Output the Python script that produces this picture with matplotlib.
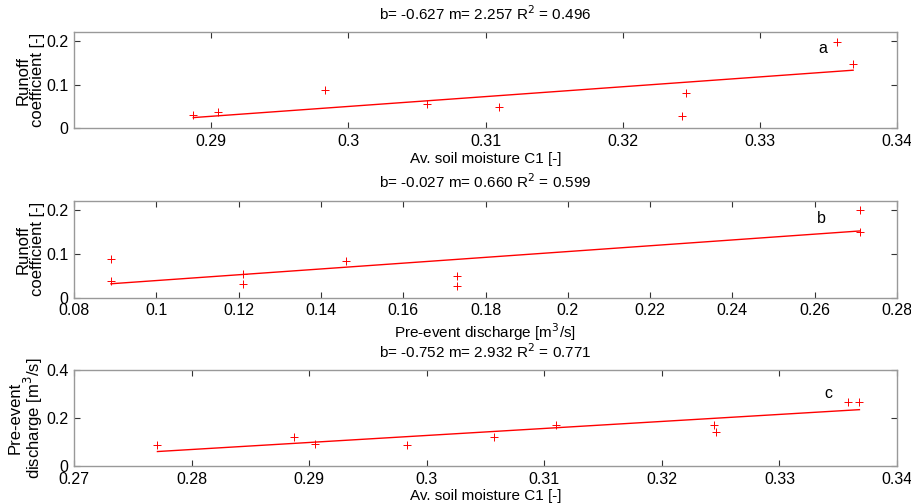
import numpy as np
import matplotlib
matplotlib.use("Agg")
import matplotlib.pyplot as plt

plt.rcParams['font.family'] = ['Liberation Sans', 'DejaVu Sans']

# panel a: soil moisture vs runoff coefficient
soil_a = [0.2887, 0.2905, 0.2983, 0.3057, 0.3110, 0.3243, 0.3246, 0.3356, 0.3368]
rc_a = [0.030, 0.037, 0.087, 0.055, 0.049, 0.028, 0.082, 0.198, 0.148]
fit_a = (-0.627, 2.257, 0.496)

# panel b: pre-event discharge vs runoff coefficient
q_b = [0.089, 0.089, 0.121, 0.121, 0.146, 0.173, 0.173, 0.271, 0.271]
rc_b = [0.088, 0.038, 0.054, 0.031, 0.083, 0.049, 0.027, 0.199, 0.150]
fit_b = (-0.027, 0.660, 0.599)

# panel c: soil moisture vs pre-event discharge
soil_c = [0.2771, 0.2887, 0.2905, 0.2983, 0.3057, 0.3110, 0.3244, 0.3246, 0.3358, 0.3368]
q_c = [0.088, 0.120, 0.090, 0.089, 0.120, 0.173, 0.171, 0.143, 0.269, 0.269]
fit_c = (-0.752, 2.932, 0.771)

panels = [
    (soil_a, rc_a, fit_a, 'a', 'Av. soil moisture C1 [-]', 'Runoff\ncoefficient [-]',
     (0.28, 0.34), np.arange(0.29, 0.3401, 0.01), (0, 0.22), [0, 0.1, 0.2], ['0.29', '0.3', '0.31', '0.32', '0.33', '0.34'],
     [0.0811, 0.7454, 0.9025, 0.1905], (0.3343, 0.172)),
    (q_b, rc_b, fit_b, 'b', 'Pre-event discharge [m$^3$/s]', 'Runoff\ncoefficient [-]',
     (0.08, 0.28), np.arange(0.08, 0.2801, 0.02), (0, 0.22), [0, 0.1, 0.2], None,
     [0.0811, 0.4093, 0.9025, 0.1919], (0.2605, 0.17)),
    (soil_c, q_c, fit_c, 'c', 'Av. soil moisture C1 [-]', 'Pre-event\ndischarge [m$^3$/s]',
     (0.27, 0.34), np.arange(0.27, 0.3401, 0.01), (0, 0.4), [0, 0.2, 0.4], ['0.27', '0.28', '0.29', '0.3', '0.31', '0.32', '0.33', '0.34'],
     [0.0811, 0.0754, 0.9025, 0.1899], (0.3338, 0.285)),
]

fig = plt.figure(figsize=(9.12, 5.04), dpi=100)

for x, y, fit, tag, xl, yl, xlim, xt, ylim, yt, xtl, pos, tpos in panels:
    ax = fig.add_axes(pos)
    b, m, r2 = fit
    x = np.array(x)
    y = np.array(y)
    ax.plot(x, y, '+', color='red', ms=6, mew=0.7)
    xs = np.array([x.min(), x.max()])
    ax.plot(xs, b + m * xs, '-', color='red', lw=1.0)
    ax.set_xlim(*xlim)
    ax.set_ylim(*ylim)
    ax.set_xticks(xt)
    if xtl is not None:
        ax.set_xticklabels(xtl)
    else:
        ax.set_xticklabels(['%g' % v for v in np.round(xt, 2)])
    ax.set_yticks(yt)
    ax.set_yticklabels(['%g' % v for v in yt])
    ax.tick_params(direction='in', length=4, width=0.8, top=True, right=True,
                   labelsize=11.5, color='#333333', pad=4)
    for s in ax.spines.values():
        s.set_color('#999999')
        s.set_linewidth(1.0)
    ax.set_title('b= %.3f m= %.3f R$^2$ = %.3f' % (b, m, r2), fontsize=11, pad=9)
    ax.set_xlabel(xl, fontsize=11, labelpad=2)
    ax.set_ylabel(yl, fontsize=12, labelpad=1, linespacing=0.95)
    ax.text(tpos[0], tpos[1], tag, fontsize=11.5)

fig.savefig('out.png', dpi=100)
